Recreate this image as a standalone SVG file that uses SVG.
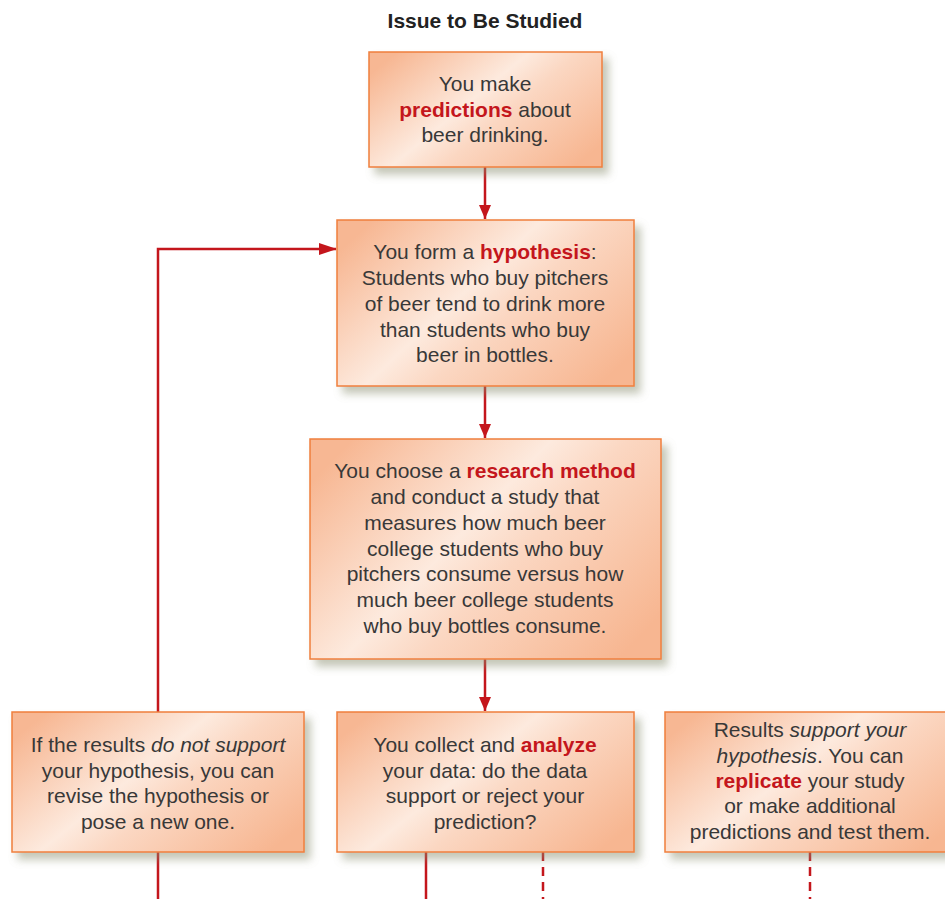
<svg xmlns="http://www.w3.org/2000/svg" width="945" height="899" viewBox="0 0 945 899">
<defs>
<linearGradient id="g" x1="0" y1="0.2" x2="1" y2="0.8">
<stop offset="0" stop-color="#f7b793"/>
<stop offset="0.42" stop-color="#fdeade"/>
<stop offset="0.58" stop-color="#fbd7c2"/>
<stop offset="1" stop-color="#f7b691"/>
</linearGradient>
<filter id="sh" x="-10%" y="-10%" width="130%" height="140%">
<feGaussianBlur in="SourceAlpha" stdDeviation="4"/>
<feOffset dx="6" dy="7" result="b"/>
<feFlood flood-color="#8a8f70" flood-opacity="0.5"/>
<feComposite in2="b" operator="in"/>
<feMerge><feMergeNode/><feMergeNode in="SourceGraphic"/></feMerge>
</filter>
<marker id="ah" markerWidth="18" markerHeight="12" refX="17" refY="6" orient="auto" markerUnits="userSpaceOnUse">
<path d="M0,0 L18,6 L0,12 Z" fill="#c4161c"/>
</marker>
<marker id="ahd" markerWidth="14" markerHeight="14" refX="14" refY="7" orient="auto" markerUnits="userSpaceOnUse">
<path d="M0,1 L14,7 L0,13 Z" fill="#c4161c"/>
</marker>
</defs>
<style>
.box{fill:url(#g);stroke:#f07f3c;stroke-width:1.5;filter:url(#sh)}
.t{font-family:"Liberation Sans",Arial,sans-serif;font-size:21px;fill:#383838;text-anchor:middle}
.b{font-weight:bold;fill:#c4161c}
.i{font-style:italic}
.c{stroke:#c4161c;stroke-width:2.5;fill:none}
.d{stroke-dasharray:9,6}
</style>
<text x="485" y="28" style="font-family:'Liberation Sans',Arial,sans-serif;font-size:21px;font-weight:bold;fill:#222;text-anchor:middle">Issue to Be Studied</text>
<g id="connectors">
<path class="c" d="M485,167 V219" marker-end="url(#ahd)"/>
<path class="c" d="M485,386 V438" marker-end="url(#ahd)"/>
<path class="c" d="M485,659 V711" marker-end="url(#ahd)"/>
<path class="c" d="M158,899 V249 H336" marker-end="url(#ah)"/>
<path class="c" d="M426,852 V899"/>
<path class="c d" d="M543,852 V899"/>
<path class="c d" d="M810,852 V899"/>
</g>
<g id="n1">
<rect class="box" x="369" y="52" width="233" height="115"/>
<text class="t" x="485" y="91">You make</text>
<text class="t" x="485" y="117"><tspan class="b">predictions</tspan> about</text>
<text class="t" x="485" y="142">beer drinking.</text>
</g>
<g id="n2">
<rect class="box" x="337" y="220" width="297" height="166"/>
<text class="t" x="485" y="259">You form a <tspan class="b">hypothesis</tspan>:</text>
<text class="t" x="485" y="285">Students who buy pitchers</text>
<text class="t" x="485" y="311">of beer tend to drink more</text>
<text class="t" x="485" y="337">than students who buy</text>
<text class="t" x="485" y="362">beer in bottles.</text>
</g>
<g id="n3">
<rect class="box" x="310" y="439" width="351" height="220"/>
<text class="t" x="485" y="478">You choose a <tspan class="b">research method</tspan></text>
<text class="t" x="485" y="504">and conduct a study that</text>
<text class="t" x="485" y="530">measures how much beer</text>
<text class="t" x="485" y="556">college students who buy</text>
<text class="t" x="485" y="581">pitchers consume versus how</text>
<text class="t" x="485" y="607">much beer college students</text>
<text class="t" x="485" y="633">who buy bottles consume.</text>
</g>
<g id="n4">
<rect class="box" x="12" y="712" width="292" height="140"/>
<text class="t" x="158" y="752">If the results <tspan class="i">do not support</tspan></text>
<text class="t" x="158" y="778">your hypothesis, you can</text>
<text class="t" x="158" y="803">revise the hypothesis or</text>
<text class="t" x="158" y="829">pose a new one.</text>
</g>
<g id="n5">
<rect class="box" x="337" y="712" width="297" height="140"/>
<text class="t" x="485" y="752">You collect and <tspan class="b">analyze</tspan></text>
<text class="t" x="485" y="778">your data: do the data</text>
<text class="t" x="485" y="803">support or reject your</text>
<text class="t" x="485" y="829">prediction?</text>
</g>
<g id="n6">
<rect class="box" x="665" y="712" width="290" height="140"/>
<text class="t" x="810" y="737">Results <tspan class="i">support your</tspan></text>
<text class="t" x="810" y="763"><tspan class="i">hypothesis</tspan>. You can</text>
<text class="t" x="810" y="788"><tspan class="b">replicate</tspan> your study</text>
<text class="t" x="810" y="813">or make additional</text>
<text class="t" x="810" y="839">predictions and test them.</text>
</g>
</svg>
